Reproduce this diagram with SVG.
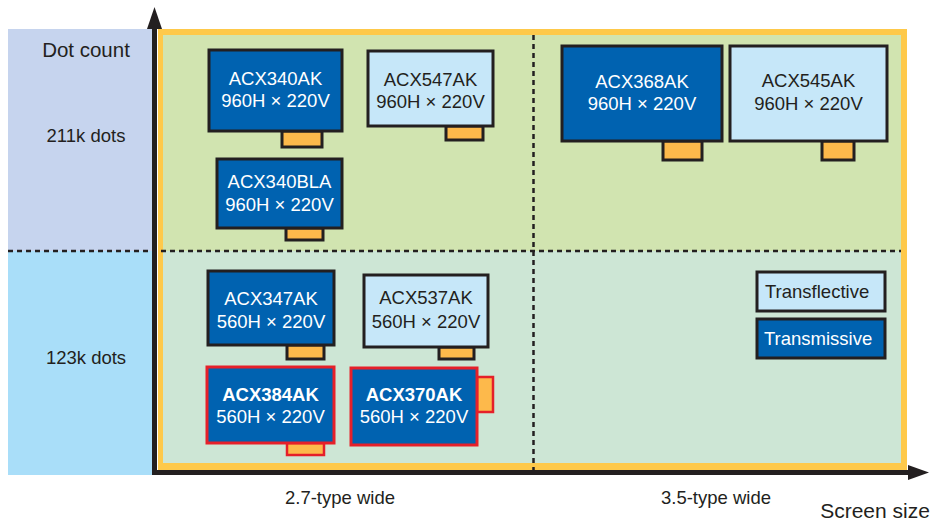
<svg xmlns="http://www.w3.org/2000/svg" width="934" height="521" viewBox="0 0 934 521">
<style>
text{font-family:"Liberation Sans",Arial,sans-serif;fill:#231f20}
.ax{font-size:18.5px}
.bt{font-size:18.5px;text-anchor:middle}
.w{fill:#ffffff}
.b{font-weight:bold}
.dk{fill:#0062b0;stroke:#231f20;stroke-width:3}
.lt{fill:#c6e7f9;stroke:#231f20;stroke-width:3}
.dkr{fill:#0062b0;stroke:#e5202a;stroke-width:3}
.tab{fill:#fdb94b;stroke:#231f20;stroke-width:3}
.tabr{fill:#fdb94b;stroke:#e5202a;stroke-width:2.5}
.dash{stroke:#231f20;stroke-width:2.5;stroke-dasharray:5 4;fill:none}
</style>
<rect width="934" height="521" fill="#ffffff"/>
<g id="background">
<rect x="8" y="29" width="146" height="222" fill="#c6d4ee"/>
<rect x="8" y="251" width="146" height="224" fill="#a9def9"/>
<rect x="158" y="29" width="749" height="441" fill="#fec94a"/>
<rect x="163" y="35" width="738" height="216" fill="#d1e4b0"/>
<rect x="163" y="251" width="738" height="212" fill="#cde6d5"/>
</g>
<g id="gridlines">
<line class="dash" x1="8" y1="251" x2="901" y2="251"/>
<line class="dash" x1="533.5" y1="35" x2="533.5" y2="470"/>
</g>
<g id="axes">
<line x1="154.5" y1="475" x2="154.5" y2="27" stroke="#231f20" stroke-width="5"/>
<polygon points="147,29 154.5,7 162,29" fill="#231f20"/>
<line x1="152" y1="472.5" x2="910" y2="472.5" stroke="#231f20" stroke-width="5"/>
<polygon points="908,465 929,472.5 908,480" fill="#231f20"/>
</g>
<g id="labels">
<text x="86" y="57" style="font-size:20.5px;text-anchor:middle">Dot count</text>
<text x="86" y="142" class="ax" text-anchor="middle">211k dots</text>
<text x="86" y="364" class="ax" text-anchor="middle">123k dots</text>
<text x="340" y="504" class="ax" text-anchor="middle">2.7-type wide</text>
<text x="716" y="504" class="ax" text-anchor="middle">3.5-type wide</text>
<text x="875" y="518" style="font-size:21px;text-anchor:middle">Screen size</text>
</g>
<g id="ACX340AK">
<rect class="tab" x="282" y="131" width="40" height="16"/>
<rect class="dk" x="209" y="50" width="133" height="81"/>
<text class="bt w" x="275.5" y="85">ACX340AK</text>
<text class="bt w" x="275.5" y="107">960H × 220V</text>
</g>
<g id="ACX340BLA">
<rect class="tab" x="286" y="228" width="37" height="12"/>
<rect class="dk" x="217" y="159" width="125" height="69"/>
<text class="bt w" x="279.5" y="188">ACX340BLA</text>
<text class="bt w" x="279.5" y="211">960H × 220V</text>
</g>
<g id="ACX547AK">
<rect class="tab" x="446" y="126" width="37" height="14"/>
<rect class="lt" x="368" y="51" width="125" height="75"/>
<text class="bt" x="430.5" y="86">ACX547AK</text>
<text class="bt" x="430.5" y="108">960H × 220V</text>
</g>
<g id="ACX368AK">
<rect class="tab" x="663" y="141" width="39" height="19"/>
<rect class="dk" x="562" y="46" width="160" height="95"/>
<text class="bt w" x="642" y="88">ACX368AK</text>
<text class="bt w" x="642" y="110">960H × 220V</text>
</g>
<g id="ACX545AK">
<rect class="tab" x="822" y="141" width="32" height="19"/>
<rect class="lt" x="730" y="46" width="157" height="95"/>
<text class="bt" x="808.5" y="87">ACX545AK</text>
<text class="bt" x="808.5" y="110">960H × 220V</text>
</g>
<g id="ACX347AK">
<rect class="tab" x="287" y="345" width="37" height="14"/>
<rect class="dk" x="208" y="271" width="126" height="74"/>
<text class="bt w" x="271" y="305">ACX347AK</text>
<text class="bt w" x="271" y="328">560H × 220V</text>
</g>
<g id="ACX537AK">
<rect class="tab" x="439" y="347" width="35" height="12"/>
<rect class="lt" x="364" y="275" width="124" height="72"/>
<text class="bt" x="426" y="304">ACX537AK</text>
<text class="bt" x="426" y="328">560H × 220V</text>
</g>
<g id="ACX384AK">
<rect class="tabr" x="287" y="443" width="37" height="12"/>
<rect class="dkr" x="207" y="367" width="127" height="76"/>
<text class="bt w b" x="270.5" y="401">ACX384AK</text>
<text class="bt w" x="270.5" y="423">560H × 220V</text>
</g>
<g id="ACX370AK">
<rect class="tabr" x="477" y="377" width="16" height="35"/>
<rect class="dkr" x="351" y="368" width="126" height="77"/>
<text class="bt w b" x="414" y="401">ACX370AK</text>
<text class="bt w" x="414" y="423">560H × 220V</text>
</g>
<g id="legend-transflective">
<rect class="lt" x="757" y="272" width="128" height="39"/>
<text x="765" y="298" style="font-size:18.5px">Transflective</text>
</g>
<g id="legend-transmissive">
<rect class="dk" x="757" y="319" width="128" height="39"/>
<text x="764" y="345" class="w" style="font-size:18.5px">Transmissive</text>
</g>
</svg>
